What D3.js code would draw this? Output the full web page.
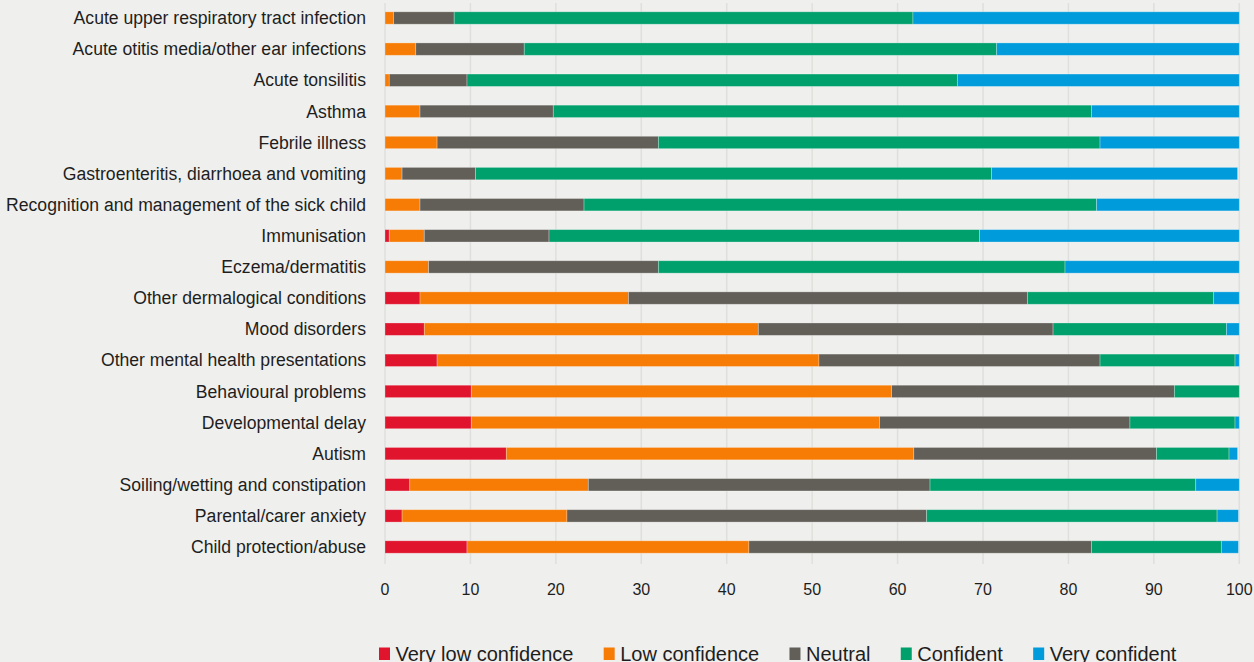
<!DOCTYPE html>
<html>
<head>
<meta charset="utf-8">
<script src="https://cdn.jsdelivr.net/npm/d3@7"></script>
<style>
  html, body { margin: 0; padding: 0; background: #efefed; }
  svg { display: block; font-family: "Liberation Sans", Arial, sans-serif; }
</style>
</head>
<body>
<div id="chart"></div>
<script>
const categories = [
  "Acute upper respiratory tract infection",
  "Acute otitis media/other ear infections",
  "Acute tonsilitis",
  "Asthma",
  "Febrile illness",
  "Gastroenteritis, diarrhoea and vomiting",
  "Recognition and management of the sick child",
  "Immunisation",
  "Eczema/dermatitis",
  "Other dermalogical conditions",
  "Mood disorders",
  "Other mental health presentations",
  "Behavioural problems",
  "Developmental delay",
  "Autism",
  "Soiling/wetting and constipation",
  "Parental/carer anxiety",
  "Child protection/abuse"
];
const veryLow   = [0, 0, 0, 0, 0, 0, 0, 0.5, 0, 4.1, 4.6, 6.1, 10.1, 10.1, 14.2, 2.9, 2.0, 9.6];
const low       = [1.0, 3.6, 0.5, 4.1, 6.1, 2.0, 4.1, 4.1, 5.1, 24.4, 39.1, 44.7, 49.2, 47.8, 47.7, 20.9, 19.3, 33.0];
const neutral   = [7.1, 12.7, 9.1, 15.6, 25.9, 8.6, 19.2, 14.6, 26.9, 46.7, 34.5, 32.9, 33.1, 29.3, 28.4, 40.0, 42.1, 40.1];
const confident = [53.7, 55.3, 57.4, 63.0, 51.7, 60.4, 60.0, 50.4, 47.6, 21.8, 20.3, 15.8, 7.6, 12.3, 8.5, 31.1, 34.0, 15.2];
const veryConf  = [38.2, 28.4, 33.0, 17.3, 16.3, 28.8, 16.7, 30.4, 20.4, 3.0, 1.5, 0.5, 0, 0.5, 1.0, 5.1, 2.5, 2.0];
const seriesNames = ["Very low confidence", "Low confidence", "Neutral", "Confident", "Very confident"];
const seriesColors = ["#e0142d", "#f77c06", "#625e58", "#00a06d", "#009bdb"];
const xTicks = [0, 10, 20, 30, 40, 50, 60, 70, 80, 90, 100];

const width = 1254, height = 662;
const keys = ["vl", "l", "n", "c", "vc"];

const rows = categories.map((name, i) => ({
  name: name,
  vl: veryLow[i], l: low[i], n: neutral[i], c: confident[i], vc: veryConf[i]
}));

const svg = d3.select("#chart").append("svg")
  .attr("width", width)
  .attr("height", height);

const x = d3.scaleLinear().domain([0, 100]).range([385, 1239.3]);
const y = d3.scalePoint().domain(categories).range([18, 547]);
const barHeight = 12.4;
const color = d3.scaleOrdinal().domain(keys).range(seriesColors);

// gridlines
svg.append("g")
  .selectAll("line")
  .data(xTicks)
  .join("line")
  .attr("x1", d => x(d))
  .attr("x2", d => x(d))
  .attr("y1", 3)
  .attr("y2", 564)
  .attr("stroke", "#dfdfdd")
  .attr("stroke-width", 1.5);

// stacked bars
const stacked = d3.stack().keys(keys)(rows);

svg.append("g")
  .selectAll("g")
  .data(stacked)
  .join("g")
  .attr("fill", d => color(d.key))
  .selectAll("rect")
  .data(d => d.filter(s => s[1] - s[0] > 0))
  .join("rect")
  .attr("x", d => x(d[0]))
  .attr("y", d => y(d.data.name) - barHeight / 2)
  .attr("width", d => x(d[1]) - x(d[0]))
  .attr("height", barHeight)
  .attr("stroke", "rgba(255,255,255,0.35)")
  .attr("stroke-width", 0.8);

// category labels
svg.append("g")
  .selectAll("text")
  .data(categories)
  .join("text")
  .attr("x", 366)
  .attr("y", d => y(d))
  .attr("dy", "0.35em")
  .attr("text-anchor", "end")
  .attr("font-size", 17.6)
  .attr("fill", "#1e1e1e")
  .text(d => d);

// x axis labels
svg.append("g")
  .selectAll("text")
  .data(xTicks)
  .join("text")
  .attr("x", d => x(d))
  .attr("y", 594.5)
  .attr("text-anchor", "middle")
  .attr("font-size", 16)
  .attr("fill", "#1e1e1e")
  .text(d => d);

// legend (bottom edge of the text is clipped, as in the original)
const legend = svg.append("g");
let lx = 379;
seriesNames.forEach((name, i) => {
  legend.append("rect")
    .attr("x", lx)
    .attr("y", 647.5)
    .attr("width", 11)
    .attr("height", 12.5)
    .attr("fill", seriesColors[i]);
  const t = legend.append("text")
    .attr("x", lx + 16.5)
    .attr("y", 660.5)
    .attr("font-size", 20)
    .attr("fill", "#1e1e1e")
    .text(name);
  lx += 16.5 + t.node().getComputedTextLength() + 30.3;
});
</script>
</body>
</html>
